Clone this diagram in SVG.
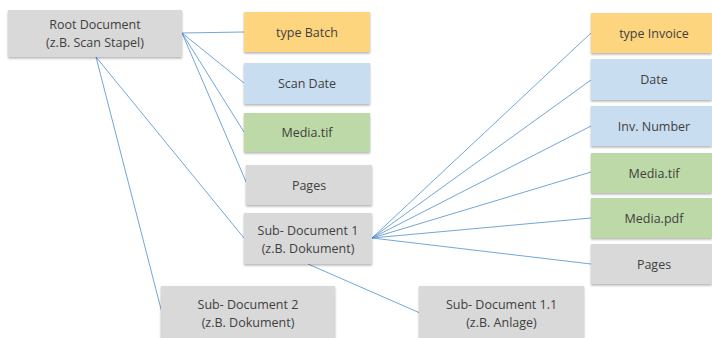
<svg xmlns="http://www.w3.org/2000/svg" width="712" height="338" viewBox="0 0 712 338">
<defs>
<filter id="sh" x="-5%" y="-10%" width="110%" height="130%">
<feDropShadow dx="0" dy="1.5" stdDeviation="0.8" flood-color="#000" flood-opacity="0.3"/>
</filter>
</defs>
<style>
.n{filter:url(#sh)}
.g{fill:#D9D9D9}
.y{fill:#FDD57F}
.b{fill:#C9DDF1}
.gr{fill:#BDD9A7}
text{font-family:"Open Sans","Liberation Sans",sans-serif;font-size:12.5px;fill:#3F3F3F;text-anchor:middle}
.c line{stroke:#4F8FCB;stroke-width:0.8}
</style>
<g class="c" id="connectors">
<line x1="182" y1="33" x2="244" y2="32"/>
<line x1="182" y1="33" x2="244" y2="83"/>
<line x1="182" y1="33" x2="244" y2="132"/>
<line x1="182" y1="33" x2="247" y2="184"/>
<line x1="96" y1="57" x2="244" y2="238"/>
<line x1="96" y1="57" x2="162" y2="313"/>
<line x1="372" y1="238" x2="591" y2="33"/>
<line x1="372" y1="238" x2="591" y2="80"/>
<line x1="372" y1="238" x2="591" y2="126"/>
<line x1="372" y1="238" x2="591" y2="172"/>
<line x1="372" y1="238" x2="591" y2="218"/>
<line x1="372" y1="238" x2="591" y2="264"/>
<line x1="308" y1="264" x2="420" y2="313"/>
</g>
<g id="root"><rect class="n g" x="8" y="10" width="174" height="47"/><text x="95" y="29">Root Document</text><text x="95" y="47">(z.B. Scan Stapel)</text></g>
<g id="typeBatch"><rect class="n y" x="244" y="12" width="126" height="40"/><text x="307" y="36.5">type Batch</text></g>
<g id="scanDate"><rect class="n b" x="244" y="63" width="126" height="41"/><text x="307" y="88">Scan Date</text></g>
<g id="mediaTif1"><rect class="n gr" x="244" y="113" width="126" height="39"/><text x="307" y="137">Media.tif</text></g>
<g id="pages1"><rect class="n g" x="246" y="165" width="126" height="40"/><text x="309" y="189.5">Pages</text></g>
<g id="sub1"><rect class="n g" x="244" y="213" width="128" height="51"/><text x="308" y="235">Sub- Document 1</text><text x="308" y="253">(z.B. Dokument)</text></g>
<g id="sub2"><rect class="n g" x="161" y="286" width="174" height="54"/><text x="248" y="309">Sub- Document 2</text><text x="248" y="327">(z.B. Dokument)</text></g>
<g id="sub11"><rect class="n g" x="419" y="286" width="165" height="54"/><text x="501.5" y="309">Sub- Document 1.1</text><text x="501.5" y="327">(z.B. Anlage)</text></g>
<g id="typeInvoice"><rect class="n y" x="591" y="13" width="121" height="40"/><text x="654" y="37.5">type Invoice</text></g>
<g id="date"><rect class="n b" x="591" y="59" width="121" height="41"/><text x="654" y="84">Date</text></g>
<g id="invNumber"><rect class="n b" x="591" y="106" width="121" height="40"/><text x="654" y="130.5">Inv. Number</text></g>
<g id="mediaTif2"><rect class="n gr" x="591" y="153" width="121" height="40"/><text x="654" y="177.5">Media.tif</text></g>
<g id="mediaPdf"><rect class="n gr" x="591" y="198" width="121" height="40"/><text x="654" y="222.5">Media.pdf</text></g>
<g id="pages2"><rect class="n g" x="591" y="244" width="121" height="40"/><text x="654" y="268.5">Pages</text></g>
</svg>
